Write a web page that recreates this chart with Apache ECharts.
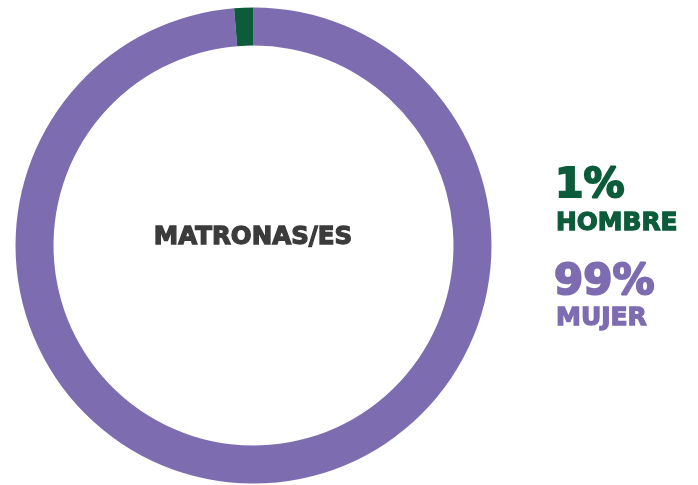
<!DOCTYPE html>
<html><head><meta charset="utf-8">
<script src="https://cdn.jsdelivr.net/npm/echarts@6/dist/echarts.min.js"></script>
<style>html,body{margin:0;padding:0;background:#fff}#c{width:698px;height:485px}</style>
</head><body><div id="c"></div>
<script>
const categories = ['MUJER', 'HOMBRE'];
const values = [98.7, 1.3];
const pctLabels = ['99%', '1%'];
const centerLabel = 'MATRONAS/ES';
const colors = ['#7e6cb1', '#0c5c3b'];

const chart = echarts.init(document.getElementById('c'));
const font = '"DejaVu Sans"';
function txt(t, x, y, size, color, align) {
  return { type: 'text', style: { text: t, x: x, y: y, align: align || 'left', verticalAlign: 'middle',
    fill: color, stroke: color, lineWidth: size > 30 ? 2 : 1.3, font: 'bold ' + size + 'px ' + font } };
}
chart.setOption({
  animation: false,
  series: [{
    type: 'pie',
    center: [253.5, 245.5],
    radius: [200, 238],
    startAngle: 90,
    clockwise: true,
    label: { show: false },
    labelLine: { show: false },
    emphasis: { disabled: true },
    itemStyle: { borderWidth: 0 },
    data: categories.map((c, i) => ({ name: c, value: values[i], itemStyle: { color: colors[i] } }))
  }],
  graphic: [
    txt(centerLabel, 253, 238, 24.5, '#3b3b3b', 'center'),
    txt(pctLabels[1], 555, 186, 41, colors[1]),
    txt(categories[1], 556, 224, 24.8, colors[1]),
    txt(pctLabels[0], 554, 283, 42, colors[0]),
    txt(categories[0], 556, 318, 25, colors[0])
  ]
});
</script></body></html>
